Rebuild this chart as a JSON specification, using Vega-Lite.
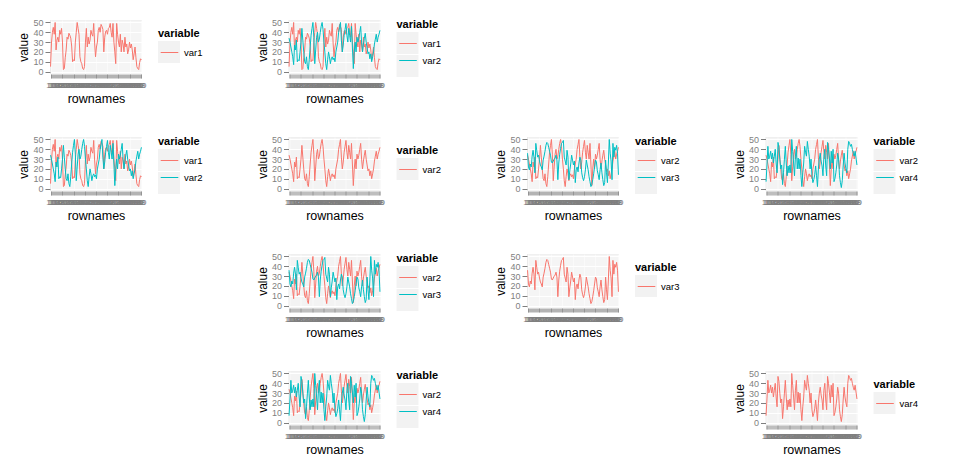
{
"$schema": "https://vega.github.io/schema/vega-lite/v6.json",
"datasets": {"d": [
{"rownames":"1","var1":5,"var2":34,"var3":36,"var4":7},
{"rownames":"10","var1":29,"var2":30,"var3":22,"var4":24},
{"rownames":"100","var1":40,"var2":25,"var3":19,"var4":43},
{"rownames":"11","var1":45,"var2":20,"var3":25,"var4":30},
{"rownames":"12","var1":38,"var2":15,"var3":22,"var4":33},
{"rownames":"13","var1":50,"var2":7,"var3":33,"var4":38},
{"rownames":"14","var1":22,"var2":27,"var3":39,"var4":30},
{"rownames":"15","var1":32,"var2":22,"var3":32,"var4":36},
{"rownames":"16","var1":35,"var2":32,"var3":16,"var4":26},
{"rownames":"17","var1":30,"var2":10,"var3":46,"var4":33},
{"rownames":"18","var1":42,"var2":12,"var3":39,"var4":40},
{"rownames":"19","var1":38,"var2":11,"var3":32,"var4":26},
{"rownames":"2","var1":44,"var2":20,"var3":34,"var4":16},
{"rownames":"20","var1":30,"var2":30,"var3":28,"var4":47},
{"rownames":"21","var1":2,"var2":44,"var3":24,"var4":42},
{"rownames":"22","var1":3,"var2":32,"var3":22,"var4":30},
{"rownames":"23","var1":14,"var2":20,"var3":19,"var4":20},
{"rownames":"24","var1":22,"var2":10,"var3":29,"var4":24},
{"rownames":"25","var1":35,"var2":8,"var3":33,"var4":4},
{"rownames":"26","var1":33,"var2":15,"var3":38,"var4":16},
{"rownames":"27","var1":39,"var2":5,"var3":44,"var4":30},
{"rownames":"28","var1":37,"var2":2,"var3":47,"var4":43},
{"rownames":"29","var1":34,"var2":12,"var3":46,"var4":26},
{"rownames":"3","var1":26,"var2":25,"var3":42,"var4":13},
{"rownames":"30","var1":10,"var2":37,"var3":38,"var4":23},
{"rownames":"31","var1":12,"var2":44,"var3":34,"var4":16},
{"rownames":"32","var1":11,"var2":50,"var3":27,"var4":24},
{"rownames":"33","var1":30,"var2":35,"var3":26,"var4":16},
{"rownames":"34","var1":40,"var2":8,"var3":28,"var4":50},
{"rownames":"35","var1":50,"var2":22,"var3":30,"var4":38},
{"rownames":"36","var1":44,"var2":35,"var3":31,"var4":26},
{"rownames":"37","var1":38,"var2":40,"var3":34,"var4":13},
{"rownames":"38","var1":15,"var2":30,"var3":29,"var4":33},
{"rownames":"39","var1":10,"var2":33,"var3":9,"var4":43},
{"rownames":"4","var1":8,"var2":40,"var3":26,"var4":20},
{"rownames":"40","var1":3,"var2":46,"var3":35,"var4":31},
{"rownames":"41","var1":2,"var2":50,"var3":41,"var4":20},
{"rownames":"42","var1":5,"var2":43,"var3":46,"var4":30},
{"rownames":"43","var1":30,"var2":30,"var3":47,"var4":13},
{"rownames":"44","var1":44,"var2":20,"var3":49,"var4":2},
{"rownames":"45","var1":25,"var2":8,"var3":32,"var4":16},
{"rownames":"46","var1":35,"var2":2,"var3":28,"var4":26},
{"rownames":"47","var1":28,"var2":12,"var3":24,"var4":43},
{"rownames":"48","var1":32,"var2":20,"var3":39,"var4":37},
{"rownames":"49","var1":42,"var2":15,"var3":32,"var4":33},
{"rownames":"5","var1":38,"var2":8,"var3":9,"var4":48},
{"rownames":"50","var1":36,"var2":13,"var3":18,"var4":40},
{"rownames":"51","var1":49,"var2":15,"var3":25,"var4":33},
{"rownames":"52","var1":29,"var2":12,"var3":34,"var4":20},
{"rownames":"53","var1":15,"var2":14,"var3":29,"var4":30},
{"rownames":"54","var1":25,"var2":10,"var3":24,"var4":13},
{"rownames":"55","var1":30,"var2":20,"var3":28,"var4":6},
{"rownames":"56","var1":42,"var2":25,"var3":6,"var4":9},
{"rownames":"57","var1":45,"var2":30,"var3":19,"var4":14},
{"rownames":"58","var1":40,"var2":40,"var3":22,"var4":23},
{"rownames":"59","var1":48,"var2":45,"var3":17,"var4":13},
{"rownames":"6","var1":46,"var2":50,"var3":26,"var4":2},
{"rownames":"60","var1":43,"var2":32,"var3":32,"var4":20},
{"rownames":"61","var1":20,"var2":20,"var3":29,"var4":30},
{"rownames":"62","var1":35,"var2":27,"var3":16,"var4":36},
{"rownames":"63","var1":41,"var2":37,"var3":11,"var4":28},
{"rownames":"64","var1":42,"var2":43,"var3":8,"var4":23},
{"rownames":"65","var1":38,"var2":49,"var3":12,"var4":13},
{"rownames":"66","var1":44,"var2":37,"var3":19,"var4":33},
{"rownames":"67","var1":45,"var2":30,"var3":29,"var4":40},
{"rownames":"68","var1":49,"var2":44,"var3":24,"var4":23},
{"rownames":"69","var1":40,"var2":37,"var3":19,"var4":13},
{"rownames":"7","var1":35,"var2":30,"var3":12,"var4":47},
{"rownames":"70","var1":49,"var2":46,"var3":7,"var4":40},
{"rownames":"71","var1":30,"var2":25,"var3":2,"var4":31},
{"rownames":"72","var1":20,"var2":3,"var3":4,"var4":20},
{"rownames":"73","var1":8,"var2":20,"var3":9,"var4":38},
{"rownames":"74","var1":49,"var2":30,"var3":15,"var4":26},
{"rownames":"75","var1":38,"var2":20,"var3":22,"var4":40},
{"rownames":"76","var1":30,"var2":35,"var3":29,"var4":7},
{"rownames":"77","var1":25,"var2":30,"var3":27,"var4":10},
{"rownames":"78","var1":38,"var2":34,"var3":18,"var4":16},
{"rownames":"79","var1":20,"var2":40,"var3":14,"var4":24},
{"rownames":"8","var1":32,"var2":46,"var3":9,"var4":36},
{"rownames":"80","var1":28,"var2":30,"var3":19,"var4":30},
{"rownames":"81","var1":20,"var2":20,"var3":26,"var4":13},
{"rownames":"82","var1":35,"var2":28,"var3":16,"var4":6},
{"rownames":"83","var1":25,"var2":34,"var3":9,"var4":1},
{"rownames":"84","var1":28,"var2":39,"var3":3,"var4":8},
{"rownames":"85","var1":18,"var2":30,"var3":6,"var4":23},
{"rownames":"86","var1":22,"var2":24,"var3":29,"var4":36},
{"rownames":"87","var1":30,"var2":18,"var3":16,"var4":26},
{"rownames":"88","var1":24,"var2":20,"var3":6,"var4":20},
{"rownames":"89","var1":28,"var2":13,"var3":26,"var4":16},
{"rownames":"9","var1":22,"var2":18,"var3":50,"var4":40},
{"rownames":"90","var1":12,"var2":10,"var3":36,"var4":48},
{"rownames":"91","var1":18,"var2":15,"var3":28,"var4":46},
{"rownames":"92","var1":25,"var2":20,"var3":9,"var4":43},
{"rownames":"93","var1":14,"var2":28,"var3":46,"var4":45},
{"rownames":"94","var1":5,"var2":33,"var3":32,"var4":40},
{"rownames":"95","var1":3,"var2":38,"var3":42,"var4":36},
{"rownames":"96","var1":2,"var2":30,"var3":39,"var4":33},
{"rownames":"97","var1":9,"var2":35,"var3":44,"var4":38},
{"rownames":"98","var1":13,"var2":38,"var3":36,"var4":31},
{"rownames":"99","var1":12,"var2":42,"var3":14,"var4":24}
]},
"padding": {"left": 17, "top": 18, "right": 5, "bottom": 5},
"columns": 4,
"spacing": {"row": 63, "column": 146.5},
"bounds": "flush",
"resolve": {"scale": {"color": "independent", "fill": "independent", "x": "independent", "y": "independent"}, "legend": {"color": "independent", "fill": "independent"}},
"concat": [
{"data":{"name":"d"},"transform":[{"fold":["var1"],"as":["variable","value"]}],"width":92,"height":54,"view":{"fill":"#EBEBEB"},"layer":[
 {"mark":"line","encoding":{"x":{"field":"rownames","type":"nominal","sort":null,"scale":{"type":"point","padding":0.6},"axis":{"title":"rownames","grid":true}},"y":{"field":"value","type":"quantitative","scale":{"domain":[-2.5,52.5],"nice":false,"zero":false},"axis":{"title":"value","values":[0,10,20,30,40,50]}},"color":{"field":"variable","type":"nominal","scale":{"domain":["var1"],"range":["#F8766D"]},"legend":{"legendX":108,"legendY":8,"zindex":2}}}},
 {"transform":[{"filter":"false"}],"mark":{"type":"square","opacity":1},"encoding":{"fill":{"field":"variable","type":"nominal","scale":{"domain":["b1"],"range":["#F2F2F2"]},"legend":{"legendX":108,"legendY":8,"zindex":0,"symbolType":"square","symbolStrokeWidth":0,"symbolOpacity":1,"titleColor":"transparent","labelColor":"transparent","title":"variable"}}}}
]},
{"data":{"name":"d"},"transform":[{"fold":["var1","var2"],"as":["variable","value"]}],"width":92,"height":54,"view":{"fill":"#EBEBEB"},"layer":[
 {"mark":"line","encoding":{"x":{"field":"rownames","type":"nominal","sort":null,"scale":{"type":"point","padding":0.6},"axis":{"title":"rownames","grid":true}},"y":{"field":"value","type":"quantitative","scale":{"domain":[-2.5,52.5],"nice":false,"zero":false},"axis":{"title":"value","values":[0,10,20,30,40,50]}},"color":{"field":"variable","type":"nominal","scale":{"domain":["var1","var2"],"range":["#F8766D","#00BFC4"]},"legend":{"legendX":108,"legendY":-1,"zindex":2}}}},
 {"transform":[{"filter":"false"}],"mark":{"type":"square","opacity":1},"encoding":{"fill":{"field":"variable","type":"nominal","scale":{"domain":["b1","b2"],"range":["#F2F2F2","#F2F2F2"]},"legend":{"legendX":108,"legendY":-1,"zindex":0,"symbolType":"square","symbolStrokeWidth":0,"symbolOpacity":1,"titleColor":"transparent","labelColor":"transparent","title":"variable"}}}}
]},
{"data":{"values":[{"a":1}]},"mark":{"type":"text","text":""},"width":92,"height":54},
{"data":{"values":[{"a":1}]},"mark":{"type":"text","text":""},"width":92,"height":54},
{"data":{"name":"d"},"transform":[{"fold":["var1","var2"],"as":["variable","value"]}],"width":92,"height":54,"view":{"fill":"#EBEBEB"},"layer":[
 {"mark":"line","encoding":{"x":{"field":"rownames","type":"nominal","sort":null,"scale":{"type":"point","padding":0.6},"axis":{"title":"rownames","grid":true}},"y":{"field":"value","type":"quantitative","scale":{"domain":[-2.5,52.5],"nice":false,"zero":false},"axis":{"title":"value","values":[0,10,20,30,40,50]}},"color":{"field":"variable","type":"nominal","scale":{"domain":["var1","var2"],"range":["#F8766D","#00BFC4"]},"legend":{"legendX":108,"legendY":-1,"zindex":2}}}},
 {"transform":[{"filter":"false"}],"mark":{"type":"square","opacity":1},"encoding":{"fill":{"field":"variable","type":"nominal","scale":{"domain":["b1","b2"],"range":["#F2F2F2","#F2F2F2"]},"legend":{"legendX":108,"legendY":-1,"zindex":0,"symbolType":"square","symbolStrokeWidth":0,"symbolOpacity":1,"titleColor":"transparent","labelColor":"transparent","title":"variable"}}}}
]},
{"data":{"name":"d"},"transform":[{"fold":["var2"],"as":["variable","value"]}],"width":92,"height":54,"view":{"fill":"#EBEBEB"},"layer":[
 {"mark":"line","encoding":{"x":{"field":"rownames","type":"nominal","sort":null,"scale":{"type":"point","padding":0.6},"axis":{"title":"rownames","grid":true}},"y":{"field":"value","type":"quantitative","scale":{"domain":[-2.5,52.5],"nice":false,"zero":false},"axis":{"title":"value","values":[0,10,20,30,40,50]}},"color":{"field":"variable","type":"nominal","scale":{"domain":["var2"],"range":["#F8766D"]},"legend":{"legendX":108,"legendY":8,"zindex":2}}}},
 {"transform":[{"filter":"false"}],"mark":{"type":"square","opacity":1},"encoding":{"fill":{"field":"variable","type":"nominal","scale":{"domain":["b1"],"range":["#F2F2F2"]},"legend":{"legendX":108,"legendY":8,"zindex":0,"symbolType":"square","symbolStrokeWidth":0,"symbolOpacity":1,"titleColor":"transparent","labelColor":"transparent","title":"variable"}}}}
]},
{"data":{"name":"d"},"transform":[{"fold":["var2","var3"],"as":["variable","value"]}],"width":92,"height":54,"view":{"fill":"#EBEBEB"},"layer":[
 {"mark":"line","encoding":{"x":{"field":"rownames","type":"nominal","sort":null,"scale":{"type":"point","padding":0.6},"axis":{"title":"rownames","grid":true}},"y":{"field":"value","type":"quantitative","scale":{"domain":[-2.5,52.5],"nice":false,"zero":false},"axis":{"title":"value","values":[0,10,20,30,40,50]}},"color":{"field":"variable","type":"nominal","scale":{"domain":["var2","var3"],"range":["#F8766D","#00BFC4"]},"legend":{"legendX":108,"legendY":-1,"zindex":2}}}},
 {"transform":[{"filter":"false"}],"mark":{"type":"square","opacity":1},"encoding":{"fill":{"field":"variable","type":"nominal","scale":{"domain":["b1","b2"],"range":["#F2F2F2","#F2F2F2"]},"legend":{"legendX":108,"legendY":-1,"zindex":0,"symbolType":"square","symbolStrokeWidth":0,"symbolOpacity":1,"titleColor":"transparent","labelColor":"transparent","title":"variable"}}}}
]},
{"data":{"name":"d"},"transform":[{"fold":["var2","var4"],"as":["variable","value"]}],"width":92,"height":54,"view":{"fill":"#EBEBEB"},"layer":[
 {"mark":"line","encoding":{"x":{"field":"rownames","type":"nominal","sort":null,"scale":{"type":"point","padding":0.6},"axis":{"title":"rownames","grid":true}},"y":{"field":"value","type":"quantitative","scale":{"domain":[-2.5,52.5],"nice":false,"zero":false},"axis":{"title":"value","values":[0,10,20,30,40,50]}},"color":{"field":"variable","type":"nominal","scale":{"domain":["var2","var4"],"range":["#F8766D","#00BFC4"]},"legend":{"legendX":108,"legendY":-1,"zindex":2}}}},
 {"transform":[{"filter":"false"}],"mark":{"type":"square","opacity":1},"encoding":{"fill":{"field":"variable","type":"nominal","scale":{"domain":["b1","b2"],"range":["#F2F2F2","#F2F2F2"]},"legend":{"legendX":108,"legendY":-1,"zindex":0,"symbolType":"square","symbolStrokeWidth":0,"symbolOpacity":1,"titleColor":"transparent","labelColor":"transparent","title":"variable"}}}}
]},
{"data":{"values":[{"a":1}]},"mark":{"type":"text","text":""},"width":92,"height":54},
{"data":{"name":"d"},"transform":[{"fold":["var2","var3"],"as":["variable","value"]}],"width":92,"height":54,"view":{"fill":"#EBEBEB"},"layer":[
 {"mark":"line","encoding":{"x":{"field":"rownames","type":"nominal","sort":null,"scale":{"type":"point","padding":0.6},"axis":{"title":"rownames","grid":true}},"y":{"field":"value","type":"quantitative","scale":{"domain":[-2.5,52.5],"nice":false,"zero":false},"axis":{"title":"value","values":[0,10,20,30,40,50]}},"color":{"field":"variable","type":"nominal","scale":{"domain":["var2","var3"],"range":["#F8766D","#00BFC4"]},"legend":{"legendX":108,"legendY":-1,"zindex":2}}}},
 {"transform":[{"filter":"false"}],"mark":{"type":"square","opacity":1},"encoding":{"fill":{"field":"variable","type":"nominal","scale":{"domain":["b1","b2"],"range":["#F2F2F2","#F2F2F2"]},"legend":{"legendX":108,"legendY":-1,"zindex":0,"symbolType":"square","symbolStrokeWidth":0,"symbolOpacity":1,"titleColor":"transparent","labelColor":"transparent","title":"variable"}}}}
]},
{"data":{"name":"d"},"transform":[{"fold":["var3"],"as":["variable","value"]}],"width":92,"height":54,"view":{"fill":"#EBEBEB"},"layer":[
 {"mark":"line","encoding":{"x":{"field":"rownames","type":"nominal","sort":null,"scale":{"type":"point","padding":0.6},"axis":{"title":"rownames","grid":true}},"y":{"field":"value","type":"quantitative","scale":{"domain":[-2.5,52.5],"nice":false,"zero":false},"axis":{"title":"value","values":[0,10,20,30,40,50]}},"color":{"field":"variable","type":"nominal","scale":{"domain":["var3"],"range":["#F8766D"]},"legend":{"legendX":108,"legendY":8,"zindex":2}}}},
 {"transform":[{"filter":"false"}],"mark":{"type":"square","opacity":1},"encoding":{"fill":{"field":"variable","type":"nominal","scale":{"domain":["b1"],"range":["#F2F2F2"]},"legend":{"legendX":108,"legendY":8,"zindex":0,"symbolType":"square","symbolStrokeWidth":0,"symbolOpacity":1,"titleColor":"transparent","labelColor":"transparent","title":"variable"}}}}
]},
{"data":{"values":[{"a":1}]},"mark":{"type":"text","text":""},"width":92,"height":54},
{"data":{"values":[{"a":1}]},"mark":{"type":"text","text":""},"width":92,"height":54},
{"data":{"name":"d"},"transform":[{"fold":["var2","var4"],"as":["variable","value"]}],"width":92,"height":54,"view":{"fill":"#EBEBEB"},"layer":[
 {"mark":"line","encoding":{"x":{"field":"rownames","type":"nominal","sort":null,"scale":{"type":"point","padding":0.6},"axis":{"title":"rownames","grid":true}},"y":{"field":"value","type":"quantitative","scale":{"domain":[-2.5,52.5],"nice":false,"zero":false},"axis":{"title":"value","values":[0,10,20,30,40,50]}},"color":{"field":"variable","type":"nominal","scale":{"domain":["var2","var4"],"range":["#F8766D","#00BFC4"]},"legend":{"legendX":108,"legendY":-1,"zindex":2}}}},
 {"transform":[{"filter":"false"}],"mark":{"type":"square","opacity":1},"encoding":{"fill":{"field":"variable","type":"nominal","scale":{"domain":["b1","b2"],"range":["#F2F2F2","#F2F2F2"]},"legend":{"legendX":108,"legendY":-1,"zindex":0,"symbolType":"square","symbolStrokeWidth":0,"symbolOpacity":1,"titleColor":"transparent","labelColor":"transparent","title":"variable"}}}}
]},
{"data":{"values":[{"a":1}]},"mark":{"type":"text","text":""},"width":92,"height":54},
{"data":{"name":"d"},"transform":[{"fold":["var4"],"as":["variable","value"]}],"width":92,"height":54,"view":{"fill":"#EBEBEB"},"layer":[
 {"mark":"line","encoding":{"x":{"field":"rownames","type":"nominal","sort":null,"scale":{"type":"point","padding":0.6},"axis":{"title":"rownames","grid":true}},"y":{"field":"value","type":"quantitative","scale":{"domain":[-2.5,52.5],"nice":false,"zero":false},"axis":{"title":"value","values":[0,10,20,30,40,50]}},"color":{"field":"variable","type":"nominal","scale":{"domain":["var4"],"range":["#F8766D"]},"legend":{"legendX":108,"legendY":8,"zindex":2}}}},
 {"transform":[{"filter":"false"}],"mark":{"type":"square","opacity":1},"encoding":{"fill":{"field":"variable","type":"nominal","scale":{"domain":["b1"],"range":["#F2F2F2"]},"legend":{"legendX":108,"legendY":8,"zindex":0,"symbolType":"square","symbolStrokeWidth":0,"symbolOpacity":1,"titleColor":"transparent","labelColor":"transparent","title":"variable"}}}}
]}
],
"config": {
  "background": "white",
  "font": "Liberation Sans",
  "view": {"stroke": null},
  "line": {"strokeWidth": 1},
  "axis": {"domain": false, "grid": true, "gridColor": "#FFFFFF", "labelColor": "#7F7F7F", "tickColor": "#7F7F7F", "titleColor": "#000000", "titleFontWeight": "normal", "labelFont": "Liberation Sans", "titleFont": "Liberation Sans"},
  "axisX": {"labelAngle": 0, "labelOverlap": false, "labelFontSize": 8, "gridWidth": 0.5, "tickWidth": 0.6, "tickSize": 4, "labelPadding": 3.5, "titlePadding": 3, "titleFontSize": 12.5},
  "axisY": {"labelFontSize": 9, "gridWidth": 1, "tickSize": 5, "labelPadding": 2, "titlePadding": 2, "titleFontSize": 12},
  "legend": {"orient": "none", "padding": 0, "titleFontSize": 11, "titleFontWeight": "bold", "titleColor": "#000000", "titlePadding": 2, "labelFontSize": 9.5, "labelColor": "#000000", "labelOffset": 3, "symbolType": "M-0.8,0L0.8,0", "symbolSize": 484, "symbolStrokeWidth": 1, "rowPadding": 1}
}
}
